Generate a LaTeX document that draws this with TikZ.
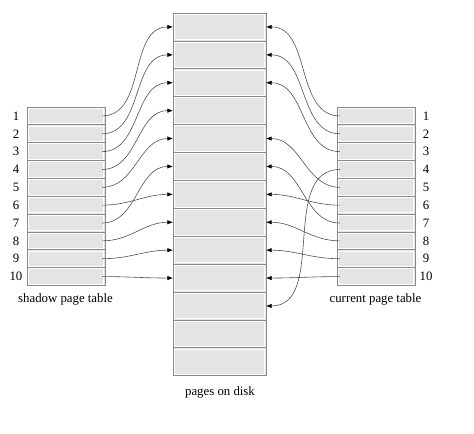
\documentclass[tikz,border=0pt]{standalone}
\usepackage{fontspec}
\setmainfont{Liberation Serif}
\usetikzlibrary{arrows.meta}
\definecolor{cellfill}{HTML}{E4E4E4}
\definecolor{cellline}{HTML}{8A8A8A}
\definecolor{connline}{HTML}{505050}
\tikzset{
  cellbox/.style={rectangle, inner sep=0pt, fill=cellfill, draw=cellline, line width=0.6pt,
    path picture={\draw[white,line width=0.7pt]
      ([shift={(0.9pt,-0.9pt)}]path picture bounding box.north west) rectangle
      ([shift={(-0.9pt,0.9pt)}]path picture bounding box.south east);}},
  pagebox/.style={cellbox, minimum width=69.75pt, minimum height=20.925pt},
  rowbox/.style={cellbox, minimum width=58.5pt, minimum height=13.39pt},
  conn/.style={draw=connline, line width=0.45pt, -{Triangle[length=4pt,width=3pt,fill=black,color=black]}},
  lbl/.style={font=\fontsize{9.6}{11}\selectfont, inner sep=0pt},
}
\begin{document}
\begin{tikzpicture}[x=0.75pt,y=-0.75pt]
\useasboundingbox (0,0) rectangle (474,433);
% pages on disk
\foreach \k in {1,...,13}{
  \node[pagebox] (p\k) at (219.5,{13+27.9*(\k-0.5)}) {};
}
% shadow and current page tables
\foreach \i in {1,...,10}{
  \node[rowbox] (s\i) at (66,{107+17.85*(\i-0.5)}) {};
  \node[rowbox] (c\i) at (376,{107+17.85*(\i-0.5)}) {};
  \node[lbl] (sl\i) at (16,{107+17.85*(\i-0.5)}) {\i};
  \node[lbl] (cl\i) at (426,{107+17.85*(\i-0.5)}) {\i};
}
\node[lbl] (scap) at (65.5,299) {shadow page table};
\node[lbl] (ccap) at (375.5,299) {current page table};
\node[lbl] (dcap) at (220,392) {pages on disk};
% shadow page table connectors
\foreach \i/\j in {1/1,2/2,3/3,4/4,5/5,6/7,7/6,8/8,9/9,10/10}{
  \draw[conn] ([xshift=-2.5pt]s\i.east) to[out=0,in=180] (p\j.west);
}
% current page table connectors
\foreach \i/\j in {1/1,2/2,3/3,4/11,5/5,6/7,7/6,8/8,9/9,10/10}{
  \draw[conn] ([xshift=2.5pt]c\i.west) to[out=180,in=0] (p\j.east);
}
\end{tikzpicture}
\end{document}
